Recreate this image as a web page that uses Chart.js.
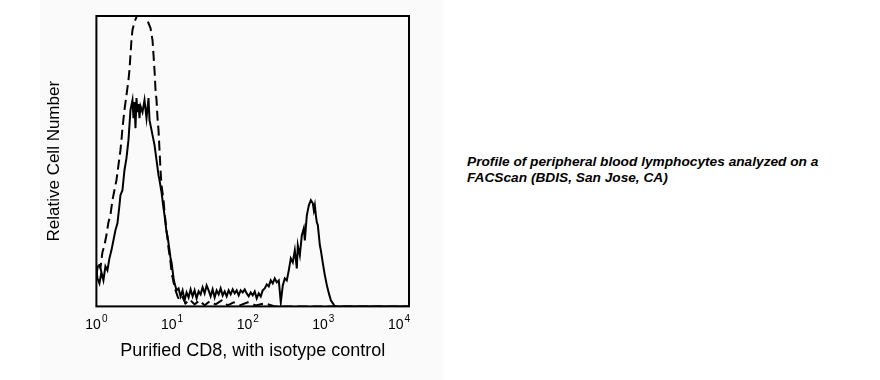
<html><head><meta charset="UTF-8">
<title>CD8 histogram</title>
<style>
* { margin: 0; padding: 0; box-sizing: border-box; }
body { background: #ffffff; width: 880px; height: 380px; position: relative; overflow: hidden; font-family: "Liberation Sans", Arial, sans-serif; }
.panel { position: absolute; left: 40px; top: 0; width: 403px; height: 380px; background: #fafafa; }
.plot { position: absolute; left: 0; top: 0; width: 440px; height: 380px; }
.note { position: absolute; left: 467px; top: 154px; width: 400px; font-size: 13.7px; line-height: 16px; font-weight: bold; font-style: italic; color: #000; }
</style>
<script src="https://cdn.jsdelivr.net/npm/chart.js"></script>
</head>
<body>
<div class="panel"></div>
<div class="plot"><canvas id="histo"></canvas></div>
<div class="note">Profile of peripheral blood lymphocytes analyzed on a<br>FACScan (BDIS, San Jose, CA)</div>

<script>
// fluorescence intensity (log axis) and relative counts
const cd8X = [1, 1.031, 1.096, 1.165, 1.238, 1.316, 1.398, 1.486, 1.58, 1.68, 1.785, 1.897, 2.017, 2.079, 2.21, 2.349, 2.497, 2.653, 2.736, 2.82,
  2.998, 3.091, 3.186, 3.285, 3.387, 3.491, 3.599, 3.711, 3.826, 4.067, 4.323, 4.596, 4.884, 5.035, 5.352, 5.689, 5.864, 6.233, 6.624, 6.83,
  7.259, 7.716, 7.955, 8.456, 8.718, 9.266, 9.552, 9.849, 10.15, 10.47, 10.79, 11.47, 12.19, 12.96, 13.78, 14.64, 15.56, 16.54, 17.58, 18.69,
  19.86, 21.11, 22.44, 23.85, 25.35, 26.95, 28.64, 30.44, 32.36, 34.39, 36.56, 38.86, 41.3, 43.9, 46.66, 49.6, 52.72, 56.02, 59.55, 63.3,
  67.28, 71.51, 76.01, 80.78, 85.86, 91.27, 97.01, 103.1, 109.6, 116.5, 123.8, 131.6, 139.9, 148.7, 158, 168, 178.5, 189.7, 201.7, 214.4,
  227.9, 242.2, 257.5, 273.7, 290.9, 309.1, 328.5, 349.1, 371.2, 394.5, 419.4, 445.7, 459.5, 488.5, 519.1, 551.7, 568.9, 604.6, 642.6, 683,
  725.9, 748.4, 771.6, 795.6, 820.2, 845.6, 898.7, 926.6, 984.9, 1047, 1113, 1183, 1257, 1336, 1420, 13550];
const cd8Y = [38, 28, 23, 34, 26, 40, 36, 48, 56, 66, 76, 83, 101, 111, 116, 136, 148, 166, 181, 196,
  206, 188, 204, 178, 208, 194, 202, 188, 200, 194, 206, 188, 208, 186, 176, 166, 161, 146, 131, 126,
  114, 98, 91, 74, 70, 56, 48, 44, 36, 28, 23, 16, 18, 10, 16, 6, 14, 9, 17, 10,
  16, 8, 15, 12, 19, 13, 21, 16, 10, 17, 9, 16, 12, 18, 11, 15, 10, 16, 12, 17,
  13, 16, 11, 16, 14, 17, 13, 10, 14, 11, 15, 8, 13, 10, 16, 18, 22, 20, 26, 23,
  28, 24, 26, 4, 21, 28, 26, 36, 48, 44, 56, 38, 61, 51, 71, 78, 66, 91, 101, 106,
  103, 96, 101, 91, 84, 81, 61, 56, 43, 31, 21, 13, 6, 3, 0, 0];

const isoX = [1, 1.063, 1.13, 1.201, 1.276, 1.357, 1.442, 1.532, 1.629, 1.731, 1.84, 1.956, 2.079, 2.144, 2.21, 2.349, 2.497, 2.653, 2.736, 2.82,
  2.908, 2.998, 3.186, 3.387, 3.599, 3.826, 4.067, 4.323, 4.596, 4.884, 5.191, 5.517, 5.689, 5.864, 6.046, 6.233, 6.426, 6.624, 6.83, 7.041,
  7.259, 7.716, 7.955, 8.456, 8.987, 9.552, 9.849, 10.47, 11.13, 11.83, 12.57, 13.78, 15.1, 17.05, 19.86, 23.13, 26.95, 31.39, 37.69, 45.25,
  54.34, 65.26, 78.35, 100, 127.6, 168, 227.9, 13550];
const isoY = [31, 44, 38, 54, 61, 71, 84, 91, 106, 116, 126, 141, 156, 166, 178, 196, 211, 226, 236, 251,
  266, 276, 284, 289, 298, 305, 306, 296, 288, 283, 278, 266, 251, 236, 216, 206, 188, 176, 156, 136,
  121, 106, 94, 76, 58, 44, 34, 24, 16, 10, 6, 9, 3, 7, 2, 6, 1, 5, 2, 6,
  1, 4, 1, 4, 1, 3, 0, 0];

const tickExponents = [0, 1, 2, 3, 4];
const xTitle = 'Purified CD8, with isotype control';
const yTitle = 'Relative Cell Number';

const FONT = '"Liberation Sans", Arial, sans-serif';
Chart.defaults.font.family = FONT;
Chart.defaults.color = '#000';

const toPoints = (xs, ys) => xs.map((v, i) => ({ x: v, y: ys[i] }));

// box round the plot and the 10^n labels under it
const frameAndTicks = {
  id: 'frameAndTicks',
  afterDatasetsDraw(chart) {
    const { ctx, chartArea: a, scales: { x } } = chart;
    ctx.save();
    ctx.strokeStyle = '#000';
    ctx.lineWidth = 2;
    ctx.strokeRect(a.left, a.top, a.right - a.left, a.bottom - a.top);

    ctx.fillStyle = '#000';
    ctx.textBaseline = 'alphabetic';
    ctx.textAlign = 'left';
    tickExponents.forEach(p => {
      const px = x.getPixelForValue(Math.pow(10, p));
      ctx.font = '14px ' + FONT;
      const wb = ctx.measureText('10').width;
      ctx.font = '10px ' + FONT;
      const we = ctx.measureText(String(p)).width;
      const start = px - (wb + 1 + we) / 2;
      ctx.font = '14px ' + FONT;
      ctx.fillText('10', start, a.bottom + 23);
      ctx.font = '10px ' + FONT;
      ctx.fillText(String(p), start + wb + 1, a.bottom + 15.5);
    });
    ctx.restore();
  }
};

new Chart(document.getElementById('histo'), {
  type: 'line',
  data: {
    datasets: [
      {
        label: 'CD8',
        data: toPoints(cd8X, cd8Y),
        borderColor: '#000',
        borderWidth: 2,
        pointRadius: 0,
        tension: 0,
        fill: false
      },
      {
        label: 'Isotype control',
        data: toPoints(isoX, isoY),
        borderColor: '#000',
        borderWidth: 2,
        borderDash: [10, 5],
        pointRadius: 0,
        tension: 0,
        fill: false
      }
    ]
  },
  options: {
    responsive: true,
    maintainAspectRatio: false,
    animation: false,
    layout: { padding: { left: 0, top: 16, right: 31, bottom: 18 } },
    plugins: {
      legend: { display: false },
      tooltip: { enabled: false }
    },
    scales: {
      x: {
        type: 'logarithmic',
        min: 1,
        max: 13550,
        grid: { display: false, drawTicks: false },
        border: { display: false },
        ticks: { display: false },
        title: {
          display: true,
          text: xTitle,
          color: '#000',
          font: { size: 18, family: FONT },
          padding: { top: 34, bottom: 0 }
        }
      },
      y: {
        min: 0,
        max: 290,
        grid: { display: false, drawTicks: false },
        border: { display: false },
        ticks: { display: false },
        title: {
          display: true,
          text: yTitle,
          color: '#000',
          font: { size: 17, family: FONT },
          padding: { top: 44, bottom: 32 }
        }
      }
    }
  },
  plugins: [frameAndTicks]
});
</script>
</body></html>
